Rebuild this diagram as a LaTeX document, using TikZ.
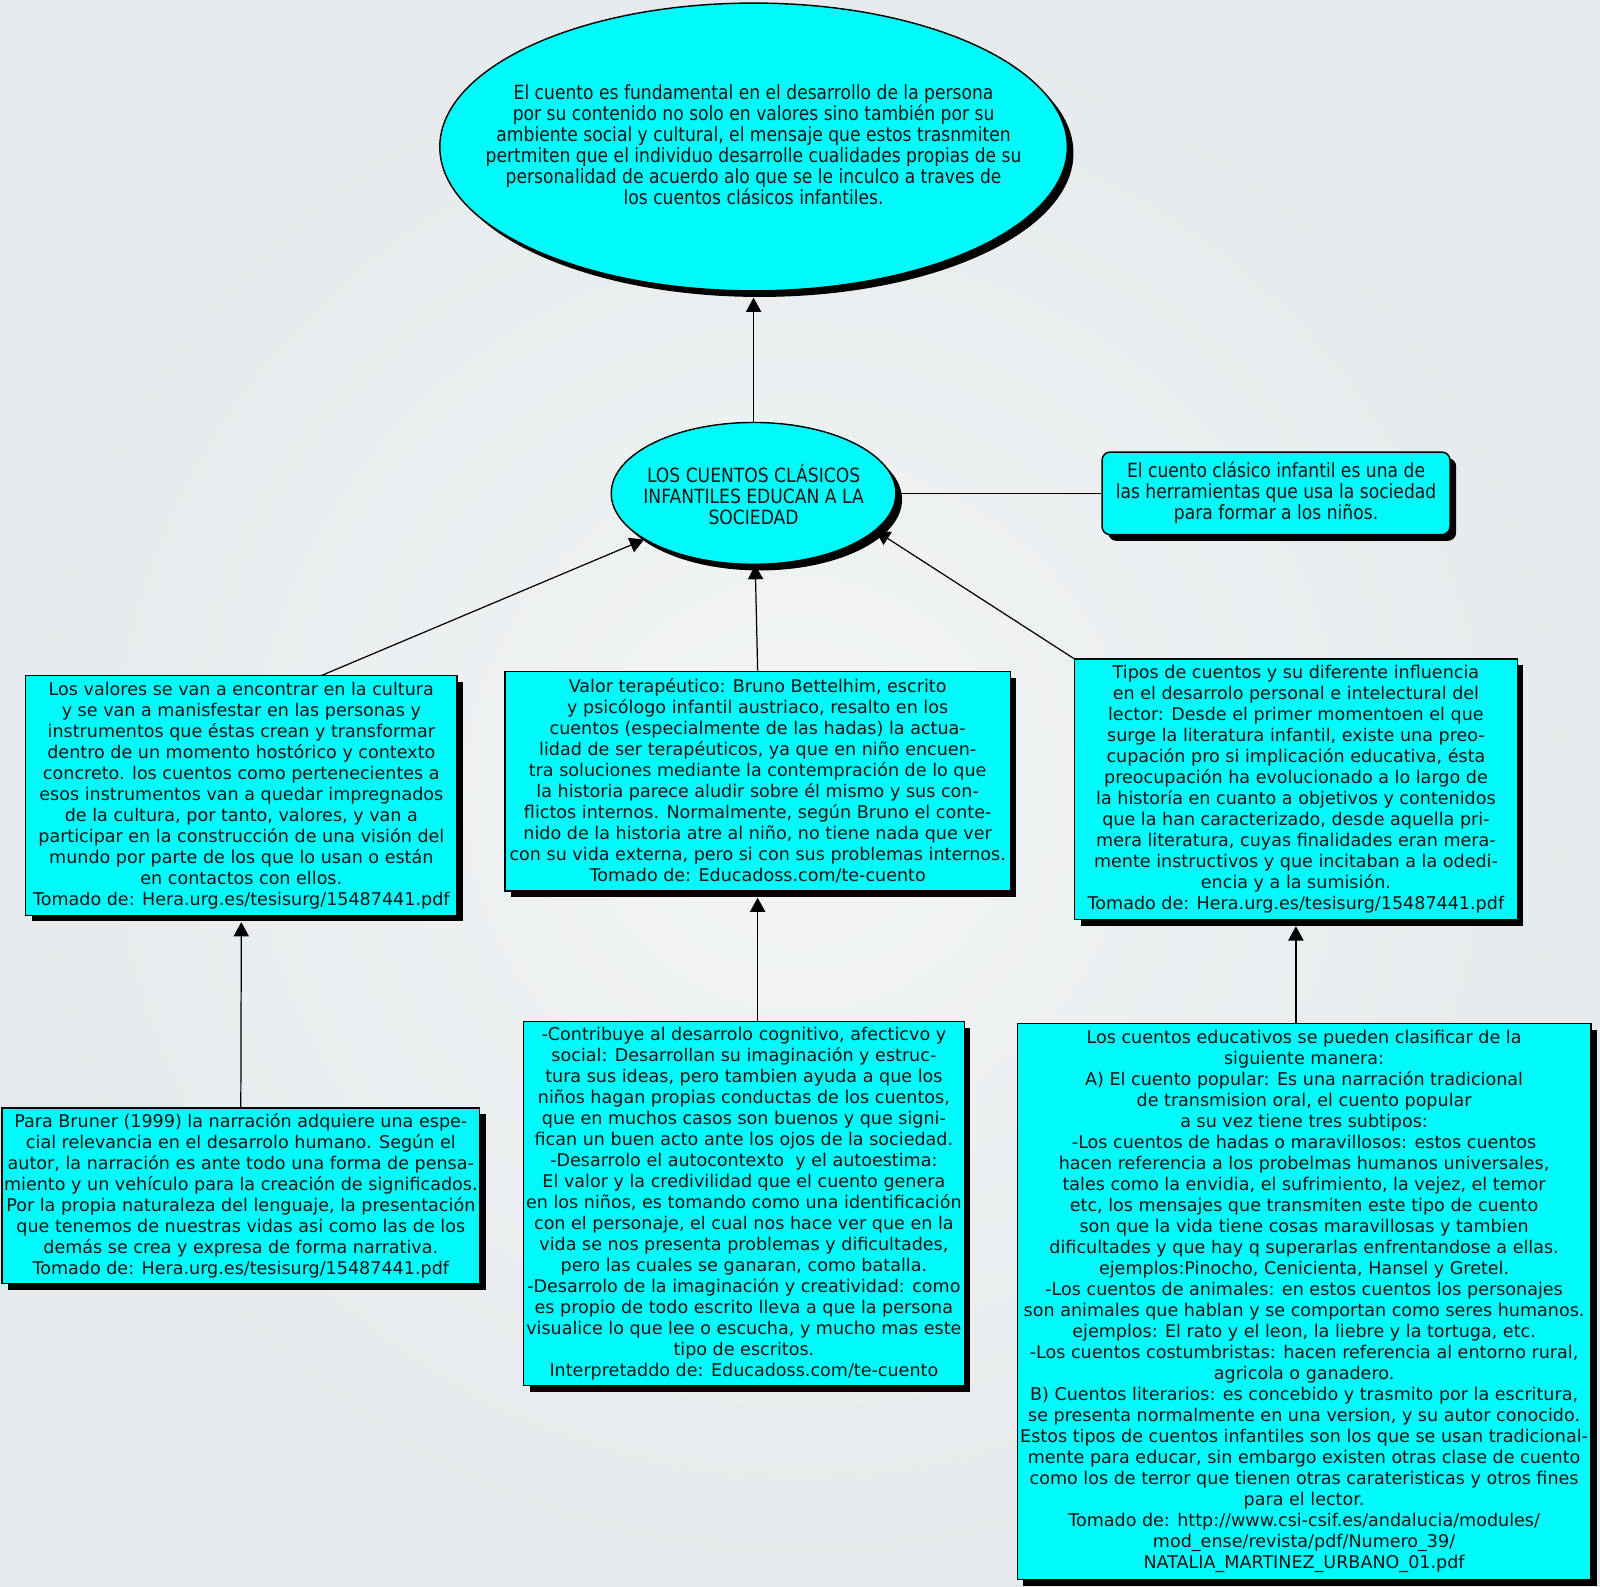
\documentclass[tikz,border=0pt]{standalone}
\usepackage{fontspec}
\setmainfont{DejaVu Sans}
\newfontfamily\narrowfont[FakeStretch=0.875]{DejaVu Sans}
\usetikzlibrary{arrows.meta,shadows,shapes.geometric}
\definecolor{cyanfill}{RGB}{0,250,250}
\definecolor{bgc}{RGB}{230,234,236}
\definecolor{bgin}{RGB}{243,245,246}
\definecolor{txt}{RGB}{20,20,20}
\begin{document}
\begin{tikzpicture}[x=0.5pt,y=-0.5pt,
  shad/.style={drop shadow={shadow xshift=3pt,shadow yshift=-3pt,fill=black,opacity=1}},
  box/.style={draw=black,line width=0.7pt,fill=cyanfill,shad,inner sep=0pt,align=center,text=txt,font=\fontsize{8.6}{10.3}\selectfont},
  ell/.style={ellipse,draw=black,line width=0.7pt,fill=cyanfill,shad,inner sep=0pt},
  etext/.style={align=center,text=txt,font=\narrowfont\fontsize{9.6}{10.3}\selectfont,inner sep=0pt},
  conn/.style={draw=black,line width=0.6pt},
  arr/.style={conn,-{Triangle[length=7pt,width=7.5pt]}}]
\useasboundingbox (0,0) rectangle (1568,1555);
\shade[inner color=bgin,outer color=bgc] (0,0) rectangle (1568,1555);

% top ellipse
\node[ell,minimum width=307.5pt,minimum height=141pt] (top) at (738.5,144) {};
\node[etext] (toptext) at (738.5,142) {El cuento es fundamental en el desarrollo de la persona\\
por su contenido no solo en valores sino también por su\\
ambiente social y cultural, el mensaje que estos trasnmiten\\
pertmiten que el individuo desarrolle cualidades propias de su\\
personalidad de acuerdo alo que se le inculco a traves de\\
los cuentos clásicos infantiles.};

% central ellipse
\node[ell,minimum width=139.5pt,minimum height=69.5pt] (central) at (738.5,483.5) {};
\node[etext] (centraltext) at (738.5,485) {LOS CUENTOS CLÁSICOS\\INFANTILES EDUCAN A LA\\SOCIEDAD};

% rounded box right
\node[draw=black,line width=0.7pt,fill=cyanfill,shad,rounded corners=4pt,inner sep=0pt,
  minimum width=170.5pt,minimum height=40.5pt] (R) at (1250.5,483.5) {};
\node[etext] (Rtext) at (1250.5,482.5) {El cuento clásico infantil es una de\\las herramientas que usa la sociedad\\para formar a los niños.};

% box A
\node[box,minimum width=211.5pt,minimum height=117.5pt] (A) at (236.5,779.5) {Los valores se van a encontrar en la cultura\\
y se van a manisfestar en las personas y\\
instrumentos que éstas crean y transformar\\
dentro de un momento hostórico y contexto\\
concreto. los cuentos como pertenecientes a\\
esos instrumentos van a quedar impregnados\\
de la cultura, por tanto, valores, y van a\\
participar en la construcción de una visión del\\
mundo por parte de los que lo usan o están\\
en contactos con ellos.\\
Tomado de: Hera.urg.es/tesisurg/15487441.pdf};

% box B
\node[box,minimum width=247.5pt,minimum height=107.5pt] (B) at (742.5,765.5) {Valor terapéutico: Bruno Bettelhim, escrito\\
y psicólogo infantil austriaco, resalto en los\\
cuentos (especialmente de las hadas) la actua-\\
lidad de ser terapéuticos, ya que en niño encuen-\\
tra soluciones mediante la contempración de lo que\\
la historia parece aludir sobre él mismo y sus con-\\
flictos internos. Normalmente, según Bruno el conte-\\
nido de la historia atre al niño, no tiene nada que ver\\
con su vida externa, pero si con sus problemas internos.\\
Tomado de: Educadoss.com/te-cuento};

% box C
\node[box,minimum width=217pt,minimum height=127.5pt] (C) at (1270,773.5) {Tipos de cuentos y su diferente influencia\\
en el desarrolo personal e intelectural del\\
lector: Desde el primer momentoen el que\\
surge la literatura infantil, existe una preo-\\
cupación pro si implicación educativa, ésta\\
preocupación ha evolucionado a lo largo de\\
la historía en cuanto a objetivos y contenidos\\
que la han caracterizado, desde aquella pri-\\
mera literatura, cuyas finalidades eran mera-\\
mente instructivos y que incitaban a la odedi-\\
encia y a la sumisión.\\
Tomado de: Hera.urg.es/tesisurg/15487441.pdf};

% box D
\node[box,minimum width=234pt,minimum height=86pt] (D) at (236,1172) {Para Bruner (1999) la narración adquiere una espe-\\
cial relevancia en el desarrolo humano. Según el\\
autor, la narración es ante todo una forma de pensa-\\
miento y un vehículo para la creación de significados.\\
Por la propia naturaleza del lenguaje, la presentación\\
que tenemos de nuestras vidas asi como las de los\\
demás se crea y expresa de forma narrativa.\\
Tomado de: Hera.urg.es/tesisurg/15487441.pdf};

% box E
\node[box,minimum width=216pt,minimum height=178.5pt] (E) at (729,1179.5) {-Contribuye al desarrolo cognitivo, afecticvo y\\
social: Desarrollan su imaginación y estruc-\\
tura sus ideas, pero tambien ayuda a que los\\
niños hagan propias conductas de los cuentos,\\
que en muchos casos son buenos y que signi-\\
fican un buen acto ante los ojos de la sociedad.\\
-Desarrolo el autocontexto\ \ y el autoestima:\\
El valor y la credivilidad que el cuento genera\\
en los niños, es tomando como una identificación\\
con el personaje, el cual nos hace ver que en la\\
vida se nos presenta problemas y dificultades,\\
pero las cuales se ganaran, como batalla.\\
-Desarrolo de la imaginación y creatividad: como\\
es propio de todo escrito lleva a que la persona\\
visualice lo que lee o escucha, y mucho mas este\\
tipo de escritos.\\
Interpretaddo de: Educadoss.com/te-cuento};

% box F
\node[box,minimum width=281pt,minimum height=272.5pt] (F) at (1278,1275.5) {Los cuentos educativos se pueden clasificar de la\\
siguiente manera:\\
A) El cuento popular: Es una narración tradicional\\
de transmision oral, el cuento popular\\
a su vez tiene tres subtipos:\\
-Los cuentos de hadas o maravillosos: estos cuentos\\
hacen referencia a los probelmas humanos universales,\\
tales como la envidia, el sufrimiento, la vejez, el temor\\
etc, los mensajes que transmiten este tipo de cuento\\
son que la vida tiene cosas maravillosas y tambien\\
dificultades y que hay q superarlas enfrentandose a ellas.\\
ejemplos:Pinocho, Cenicienta, Hansel y Gretel.\\
-Los cuentos de animales: en estos cuentos los personajes\\
son animales que hablan y se comportan como seres humanos.\\
ejemplos: El rato y el leon, la liebre y la tortuga, etc.\\
-Los cuentos costumbristas: hacen referencia al entorno rural,\\
agricola o ganadero.\\
B) Cuentos literarios: es concebido y trasmito por la escritura,\\
se presenta normalmente en una version, y su autor conocido.\\
Estos tipos de cuentos infantiles son los que se usan tradicional-\\
mente para educar, sin embargo existen otras clase de cuento\\
como los de terror que tienen otras carateristicas y otros fines\\
para el lector.\\
Tomado de: http://www.csi-csif.es/andalucia/modules/\\
mod\_ense/revista/pdf/Numero\_39/\\
NATALIA\_MARTINEZ\_URBANO\_01.pdf};

% connectors
\coordinate (a1) at (315,662);
\draw[arr] (central.north) -- ([yshift=-3pt]top.south);
\draw[arr] (a1) -- (central);
\draw[arr] (B.north) -- (central);
\draw[arr] (C.north west) -- (central.-17);
\draw[conn] (central.east) -- (R.west);
\draw[arr] (D.north) -- ([yshift=-3pt]A.south);
\draw[arr] (B.south |- E.north) -- ([yshift=-3pt]B.south);
\draw[arr] (C.south |- F.north) -- ([yshift=-3pt]C.south);
\end{tikzpicture}
\end{document}
